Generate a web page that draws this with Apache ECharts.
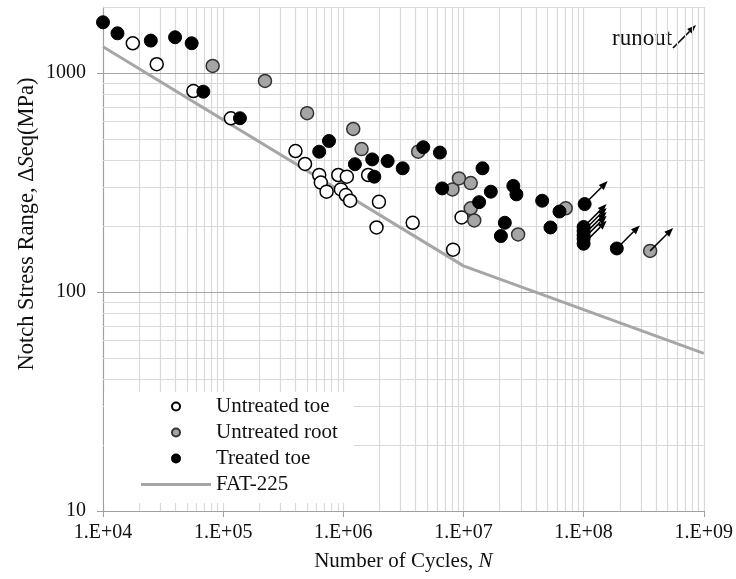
<!DOCTYPE html>
<html><head><meta charset="utf-8">
<script src="https://cdn.jsdelivr.net/npm/echarts@6/dist/echarts.min.js"></script>
<style>html,body{margin:0;padding:0;background:#fff}#c{width:736px;height:579px}</style>
</head><body><div id="c"></div>
<script>
// ---- axis ticks ----
const xTickValues = [1e4, 1e5, 1e6, 1e7, 1e8, 1e9];
const xTickLabels = ['1.E+04', '1.E+05', '1.E+06', '1.E+07', '1.E+08', '1.E+09'];
const yTickValues = [10, 100, 1000];
const yTickLabels = ['10', '100', '1000'];

// ---- Untreated toe (open circles) ----
const untreatedToeN = [1.77e4, 2.8e4, 5.65e4, 1.16e5, 4.0e5, 4.8e5, 6.3e5, 6.5e5, 7.26e5, 9.08e5, 1.07e6, 1.61e6, 9.55e5, 1.05e6, 1.14e6, 1.98e6, 1.89e6, 3.78e6, 9.65e6, 8.2e6];
const untreatedToeS = [1366, 1096, 827, 621, 440, 384, 342, 316, 287, 342, 336, 342, 294, 277, 261, 258, 197, 207, 219, 156];

// ---- Untreated root (grey circles) ----
const untreatedRootN = [8.18e4, 2.23e5, 5.0e5, 1.21e6, 1.42e6, 4.2e6, 8.1e6, 9.17e6, 1.15e7, 1.15e7, 1.23e7, 2.85e7, 7.1e7];
const untreatedRootS = [1076, 919, 655, 555, 449, 437, 294, 330, 314, 241, 212, 183, 241];
const untreatedRootRunoutN = [3.58e8];
const untreatedRootRunoutS = [154];

// ---- Treated toe (filled circles) ----
const treatedToeN = [1e4, 1.32e4, 2.5e4, 3.98e4, 5.47e4, 6.84e4, 1.38e5, 6.3e5, 7.6e5, 1.25e6, 1.74e6, 2.34e6, 3.12e6, 1.81e6, 4.63e6, 6.37e6, 6.65e6, 1.44e7, 1.69e7, 1.35e7, 2.21e7, 2.05e7, 2.6e7, 2.76e7, 4.52e7, 6.3e7, 5.3e7];
const treatedToeS = [1703, 1517, 1405, 1455, 1366, 821, 621, 437, 489, 383, 403, 396, 367, 336, 458, 433, 297, 367, 287, 257, 207, 180, 305, 279, 261, 233, 197];
const treatedToeRunoutN = [1.02e8, 1e8, 1e8, 1e8, 1e8, 1e8, 1.89e8];
const treatedToeRunoutS = [252, 198, 190, 182, 175, 166, 158];

// ---- FAT-225 design curve ----
const fatN = [1e4, 1e7, 1e9];
const fatS = [1316, 131.6, 52.4];

const FONT = 'Liberation Serif';
const TXT = '#111';
const zip = (a, b) => a.map((v, i) => [v, b[i]]);

// gridline values (decades and their 2..9 multiples)
const gridX = [], gridY = [];
for (let d = 1e4; d < 1e9; d *= 10) for (let k = 2; k <= 10; k++) gridX.push({ v: d * k, major: k === 10 });
for (let d = 10; d < 2000; d *= 10) for (let k = 2; k <= 10; k++) if (d * k <= 2000) gridY.push({ v: d * k, major: k === 10 });

const gridLines = [
  ...gridX.map(g => ({ xAxis: g.v, lineStyle: { color: '#d9d9d9', width: 1.2, type: 'solid' } })),
  ...gridY.map(g => ({ yAxis: g.v, lineStyle: { color: g.major ? '#a6a6a6' : '#d9d9d9', width: 1.2, type: 'solid' } }))
];

// arrow shapes from a start pixel, pointing up-right
function arrowShapes(x, y) {
  const L = 23, head = 9, hw = 3.5;
  const x2 = x + L, y2 = y - L;
  const ux = Math.SQRT1_2, uy = -Math.SQRT1_2;
  const bx = x2 - ux * head, by = y2 - uy * head;
  const nx = -uy, ny = ux;
  return [
    { type: 'line', shape: { x1: x, y1: y, x2: bx, y2: by }, style: { stroke: '#000', lineWidth: 1.5 } },
    { type: 'polygon', shape: { points: [[x2, y2], [bx + nx * hw, by + ny * hw], [bx - nx * hw, by - ny * hw]] }, style: { fill: '#000' } }
  ];
}
function arrowItem(params, api) {
  const p = api.coord([api.value(0), api.value(1)]);
  return { type: 'group', children: arrowShapes(p[0], p[1]) };
}

const chart = echarts.init(document.getElementById('c'));
chart.setOption({
  animation: false,
  backgroundColor: '#fff',
  grid: { left: 103, right: 32, top: 7, bottom: 68 },
  xAxis: {
    type: 'log', logBase: 10, min: 1e4, max: 1e9,
    name: '{n|Number of Cycles, }{i|N}', nameLocation: 'middle', nameGap: 40,
    nameTextStyle: {
      rich: {
        n: { fontFamily: FONT, fontSize: 21, color: TXT },
        i: { fontFamily: FONT, fontSize: 21, color: TXT, fontStyle: 'italic' }
      }
    },
    axisLine: { lineStyle: { color: '#a0a0a0', width: 1.2 } },
    axisTick: { show: true, length: 6, inside: false, customValues: xTickValues, lineStyle: { color: '#a0a0a0' } },
    axisLabel: {
      customValues: xTickValues, margin: 12, fontFamily: FONT, fontSize: 20, color: TXT,
      formatter: v => { const i = xTickValues.findIndex(t => Math.abs(t - v) / t < 1e-6); return i >= 0 ? xTickLabels[i] : ''; }
    },
    splitLine: { show: false }, minorTick: { show: false }, minorSplitLine: { show: false }
  },
  yAxis: {
    type: 'log', logBase: 10, min: 10, max: 2000,
    axisLine: { show: true, lineStyle: { color: '#a0a0a0', width: 1.2 } },
    axisTick: { show: true, length: 6, inside: false, customValues: yTickValues, lineStyle: { color: '#a0a0a0' } },
    axisLabel: {
      customValues: yTickValues, margin: 17, fontFamily: FONT, fontSize: 20, color: TXT,
      formatter: v => { const i = yTickValues.findIndex(t => Math.abs(t - v) / t < 1e-6); return i >= 0 ? yTickLabels[i] : ''; }
    },
    splitLine: { show: false }, minorTick: { show: false }, minorSplitLine: { show: false }
  },
  legend: {
    orient: 'vertical', left: 104, top: 392, z: 20,
    padding: [4, 16, 8, 37], backgroundColor: '#fff',
    itemWidth: 70, itemHeight: 8, itemGap: 5,
    textStyle: { fontFamily: FONT, fontSize: 21, color: TXT },
    data: [
      'Untreated toe', 'Untreated root', 'Treated toe',
      { name: 'FAT-225', icon: 'path://M0,0L70,0L70,3L0,3Z' }
    ]
  },
  graphic: [
    {
      type: 'text', x: 27, y: 224, rotation: Math.PI / 2,
      style: {
        text: '{n|Notch Stress Range, Δ}{i|S}{n|eq(MPa)}', align: 'center', verticalAlign: 'middle',
        rich: {
          n: { fontFamily: FONT, fontSize: 22.5, fill: TXT },
          i: { fontFamily: FONT, fontSize: 22.5, fill: TXT, fontStyle: 'italic' }
        }
      }
    },
    { type: 'text', x: 612, y: 39, style: { text: 'runout', fontFamily: FONT, fontSize: 23, fill: TXT, align: 'left', verticalAlign: 'middle' } },
    { type: 'group', children: arrowShapes(673, 48) }
  ],
  series: [
    {
      name: 'FAT-225', type: 'line', data: zip(fatN, fatS), symbol: 'none', showSymbol: false, z: 2, silent: true,
      lineStyle: { color: '#a6a6a6', width: 3 }, itemStyle: { color: '#a6a6a6' },
      markLine: { silent: true, symbol: 'none', z: 1, label: { show: false }, animation: false, data: gridLines }
    },
    {
      name: 'Untreated toe', type: 'scatter', data: zip(untreatedToeN, untreatedToeS), symbol: 'circle', symbolSize: 13, z: 3, clip: false,
      itemStyle: { color: '#ffffff', borderColor: '#000', borderWidth: 1.5, opacity: 1 }
    },
    {
      name: 'Untreated root', type: 'scatter', data: zip(untreatedRootN.concat(untreatedRootRunoutN), untreatedRootS.concat(untreatedRootRunoutS)), symbol: 'circle', symbolSize: 13, z: 3, clip: false,
      itemStyle: { color: '#a5a5a5', borderColor: '#333', borderWidth: 1.5, opacity: 1 }
    },
    {
      name: 'Treated toe', type: 'scatter', data: zip(treatedToeN.concat(treatedToeRunoutN), treatedToeS.concat(treatedToeRunoutS)), symbol: 'circle', symbolSize: 13, z: 3, clip: false,
      itemStyle: { color: '#000', borderColor: '#000', borderWidth: 1, opacity: 1 }
    },
    {
      name: 'runout', type: 'custom', z: 4, silent: true,
      data: zip(treatedToeRunoutN.concat(untreatedRootRunoutN), treatedToeRunoutS.concat(untreatedRootRunoutS)),
      renderItem: arrowItem
    }
  ]
});
</script>
</body></html>
